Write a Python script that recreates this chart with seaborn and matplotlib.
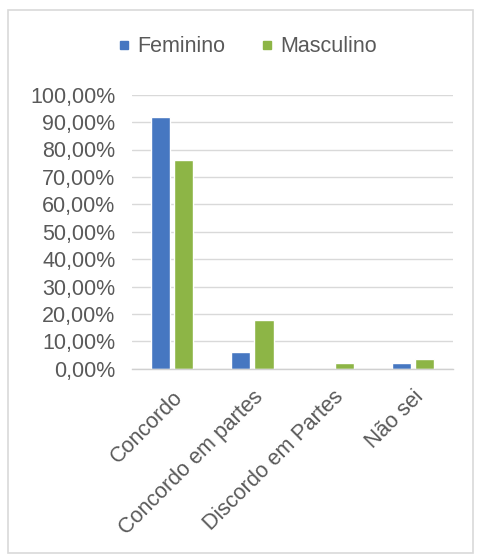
import matplotlib
matplotlib.use("Agg")
import matplotlib.pyplot as plt
import matplotlib.patches as mpatches
from matplotlib.lines import Line2D
import seaborn as sns
import pandas as pd
from matplotlib.ticker import FuncFormatter, MultipleLocator

categorias = ["Concordo", "Concordo em partes", "Discordo em Partes", "Não sei"]
feminino = [0.920, 0.061, 0.0, 0.020]
masculino = [0.762, 0.178, 0.022, 0.036]
series = ["Feminino", "Masculino"]
cores = ["#4677C1", "#8DB546"]

df = pd.DataFrame({
    "categoria": categorias * 2,
    "valor": feminino + masculino,
    "sexo": [series[0]] * len(categorias) + [series[1]] * len(categorias),
})

sns.set_theme(style="white")
plt.rcParams["font.family"] = ["Liberation Sans", "DejaVu Sans"]

fig = plt.figure(figsize=(4.81, 5.6), dpi=100)
fig.patch.set_facecolor("white")

# outer frame of the chart area
frame = mpatches.Rectangle((8 / 481, 1 - 553 / 560), 465 / 481, 543 / 560,
                           transform=fig.transFigure, fill=False,
                           edgecolor="#D9D9D9", linewidth=1.2)
fig.patches.append(frame)

ax = fig.add_axes([132 / 481, 1 - 368.7 / 560, 321 / 481, 274 / 560])
sns.barplot(data=df, x="categoria", y="valor", hue="sexo", palette=cores,
            width=0.58, gap=0.18, ax=ax, legend=False, saturation=1)

ax.set_xlim(-0.5, 3.5)
ax.set_ylim(0, 1.0)
ax.yaxis.set_major_locator(MultipleLocator(0.1))
ax.yaxis.set_major_formatter(
    FuncFormatter(lambda v, _: f"{v * 100:.2f}%".replace(".", ",")))
ax.grid(axis="y", color="#D9D9D9", linewidth=1)
ax.set_axisbelow(True)
for s in ["left", "right", "top"]:
    ax.spines[s].set_visible(False)
ax.spines["bottom"].set_color("#D0D0D0")
ax.spines["bottom"].set_linewidth(1)
ax.set_xlabel("")
ax.set_ylabel("")
ax.tick_params(axis="y", length=0, pad=12, labelsize=15.5, labelcolor="#595959")
ax.tick_params(axis="x", length=0, pad=13, labelsize=15.5, labelcolor="#595959")
plt.setp(ax.get_xticklabels(), rotation=45, ha="right", rotation_mode="anchor")

handles = [Line2D([], [], linestyle="none", marker="s", markersize=6,
                  markerfacecolor=c, markeredgecolor=c, label=l)
           for c, l in zip(cores, series)]
fig.legend(handles=handles, loc="center", bbox_to_anchor=(248 / 481, 1 - 47 / 560),
           ncol=2, frameon=False, fontsize=15.5, handlelength=0.5,
           handletextpad=0.35, columnspacing=1.7, labelcolor="#595959")

fig.savefig("out.png", dpi=100, facecolor="white")
